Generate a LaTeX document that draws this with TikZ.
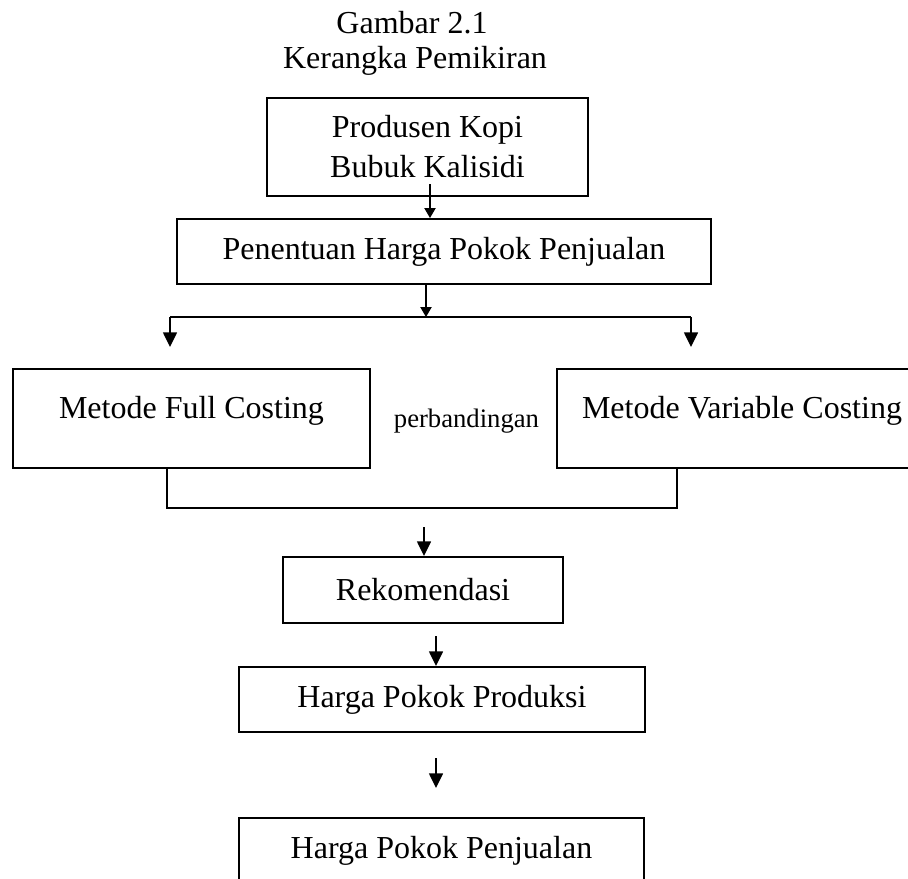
\documentclass[tikz,border=0pt]{standalone}
\usepackage{fontspec}
\setmainfont{Liberation Serif}
\usepackage{tikz}
\usetikzlibrary{arrows.meta,positioning,calc}

\tikzset{
    box/.style={draw, rectangle, line width=1.5pt, inner sep=0pt, align=center,
        font=\fontsize{24}{30}\selectfont},
    tall/.style={text height=12pt, text depth=12pt},
    lbl/.style={inner sep=0pt, font=\fontsize{24}{30}\selectfont},
    bigarr/.style={-{Triangle[width=10.5pt,length=11pt]}, line width=1.1pt},
    smallarr/.style={-{Triangle[width=8.5pt,length=7.5pt]}, line width=0.9pt},
    link/.style={line width=1.5pt}
}

\begin{document}
\begin{tikzpicture}[x=0.75pt, y=-0.75pt]
    \useasboundingbox (0,0) rectangle (908,879);

    \node (title1) [lbl, anchor=base] at (412,33) {Gambar 2.1};
    \node (title2) [lbl, anchor=base] at (415,68) {Kerangka Pemikiran};

    \node (produsen) [box, minimum width=240.75pt, minimum height=73.5pt] at (427.5,147) {Produsen Kopi\\Bubuk Kalisidi};
    \node (penentuan) [box, minimum width=400.5pt, minimum height=48.75pt] at (444,251.5) {Penentuan Harga Pokok Penjualan};
    \node (fullcost) [box, tall, minimum width=267.75pt, minimum height=74.25pt] at (191.5,418.5) {Metode Full Costing};
    \node (varcost) [box, tall, minimum width=277.5pt, minimum height=74.25pt] at (742,418.5) {Metode Variable Costing};
    \node (banding) [inner sep=0pt, anchor=base, font=\fontsize{20}{24}\selectfont] at (466.5,427) {perbandingan};
    \node (rekom) [box, minimum width=210pt, minimum height=49.5pt] at (423,590) {Rekomendasi};
    \node (hpprod) [box, minimum width=304.5pt, minimum height=48.75pt] at (442,699.5) {Harga Pokok Produksi};
    \node (hpjual) [box, minimum width=303.75pt, minimum height=48.75pt] at (441.5,850.5) {Harga Pokok Penjualan};

    \coordinate (a0) at (430,184);
    \coordinate (split) at (426,317);
    \coordinate (cl) at (170,317);
    \coordinate (cr) at (691,317);
    \coordinate (fcin) at (170,347);
    \coordinate (vcin) at (691,347);
    \coordinate (jl) at (167,508);
    \coordinate (jr) at (677,508);
    \coordinate (r0) at (424,527);
    \coordinate (p0) at (436,636);
    \coordinate (j0) at (436,758);
    \coordinate (j1) at (436,788);

    \draw[smallarr] (a0) -- (a0 |- penentuan.north);
    \draw[smallarr] (split |- penentuan.south) -- (split);
    \draw[link] (cl) -- (cr);
    \draw[bigarr] (cl) -- (fcin);
    \draw[bigarr] (cr) -- (vcin);
    \draw[link] (jl |- fullcost.south) -- (jl) -- (jr) -- (jr |- varcost.south);
    \draw[bigarr] (r0) -- (r0 |- rekom.north);
    \draw[bigarr] (p0) -- (p0 |- hpprod.north);
    \draw[bigarr] (j0) -- (j1);
\end{tikzpicture}
\end{document}
